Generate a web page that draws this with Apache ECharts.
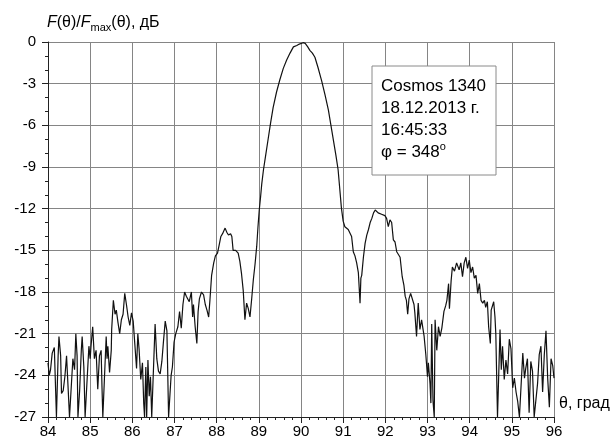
<!DOCTYPE html>
<html>
<head>
<meta charset="utf-8">
<script src="https://cdn.jsdelivr.net/npm/echarts@6/dist/echarts.min.js"></script>
<style>
html,body{margin:0;padding:0;background:#fff;}
#chart{width:613px;height:441px;}
</style>
</head>
<body>
<div id="chart"></div>
<script>
// Angle, degrees
var theta = [
84.00,84.03,84.06,84.10,84.15,84.18,84.20,84.22,84.24,84.26,84.30,84.32,84.36,84.40,84.44,84.48,84.51,84.55,84.59,84.63,
84.66,84.69,84.71,84.73,84.75,84.79,84.81,84.85,84.88,84.92,84.97,85.00,85.02,85.06,85.10,85.14,85.18,85.22,85.26,85.28,
85.30,85.34,85.38,85.40,85.42,85.46,85.50,85.51,85.55,85.59,85.62,85.66,85.70,85.74,85.78,85.82,85.86,85.90,85.94,85.98,
86.02,86.06,86.10,86.13,86.16,86.20,86.24,86.27,86.29,86.32,86.34,86.37,86.40,86.43,86.46,86.50,86.54,86.58,86.62,86.66,
86.70,86.74,86.78,86.82,86.86,86.90,86.92,86.95,86.99,87.03,87.08,87.12,87.16,87.20,87.24,87.28,87.32,87.35,87.40,87.43,
87.45,87.49,87.53,87.56,87.59,87.64,87.69,87.73,87.77,87.81,87.84,87.88,87.93,87.97,88.02,88.06,88.10,88.14,88.20,88.24,
88.28,88.33,88.36,88.39,88.45,88.51,88.55,88.59,88.63,88.67,88.71,88.75,88.79,88.83,88.87,88.91,88.95,88.98,89.01,89.04,
89.07,89.11,89.16,89.22,89.28,89.34,89.42,89.50,89.58,89.66,89.74,89.82,89.90,89.96,90.00,90.05,90.10,90.16,90.21,90.27,
90.33,90.40,90.49,90.57,90.65,90.71,90.77,90.83,90.88,90.92,90.96,91.00,91.04,91.08,91.12,91.16,91.20,91.24,91.28,91.32,
91.36,91.40,91.42,91.44,91.48,91.52,91.56,91.60,91.64,91.68,91.72,91.76,91.80,91.83,91.87,91.91,91.95,91.99,92.03,92.07,
92.11,92.15,92.19,92.23,92.27,92.31,92.35,92.40,92.44,92.47,92.50,92.53,92.56,92.60,92.64,92.68,92.70,92.74,92.78,92.82,
92.86,92.89,92.92,92.96,93.00,93.02,93.06,93.08,93.10,93.13,93.16,93.18,93.22,93.26,93.30,93.34,93.39,93.43,93.46,93.50,
93.52,93.56,93.59,93.64,93.69,93.75,93.79,93.83,93.87,93.91,93.95,93.99,94.03,94.07,94.11,94.15,94.19,94.23,94.27,94.31,
94.35,94.38,94.42,94.45,94.49,94.51,94.57,94.60,94.62,94.66,94.70,94.72,94.75,94.78,94.82,94.86,94.90,94.94,94.98,95.02,
95.06,95.10,95.14,95.18,95.22,95.26,95.30,95.33,95.37,95.41,95.45,95.49,95.53,95.57,95.61,95.65,95.69,95.73,95.77,95.81,
95.85,95.89,95.93,95.97,96.00
];
// Normalised pattern level, dB
var level = [
-23.1,-24.0,-23.6,-22.4,-22.0,-25.0,-27,-27,-22.6,-21.2,-22.6,-25.3,-25.1,-24.1,-22.6,-25.1,-27,-27,-22.8,-23.6,
-21.0,-22.6,-27,-27,-25.1,-22.2,-21.2,-23.4,-27,-27,-21.9,-22.8,-21.9,-20.5,-22.8,-22.2,-25.0,-22.6,-22.2,-24.8,
-27,-27,-21.2,-22.8,-21.9,-23.8,-22.2,-20.7,-18.6,-19.6,-19.3,-20.2,-21.0,-20.0,-19.6,-18.1,-18.9,-19.8,-20.4,-19.5,
-20.1,-21.8,-23.5,-21.0,-22.1,-24.3,-23.1,-26.0,-27,-23.4,-27,-22.9,-25.5,-24.1,-27,-27,-20.3,-22.8,-23.7,-23.9,
-23.0,-21.5,-20.1,-20.8,-27,-27,-24.0,-23.4,-21.6,-21.0,-20.5,-19.4,-20.6,-18.9,-18.0,-18.3,-18.2,-18.7,-18.0,-19.8,
-18.9,-20.5,-21.7,-19.4,-18.5,-18.0,-18.2,-18.9,-19.3,-19.8,-18.6,-16.8,-15.9,-15.4,-15.2,-14.6,-14.0,-13.8,-13.4,-13.7,
-13.9,-13.8,-14.0,-15.0,-15.0,-15.2,-15.8,-16.7,-17.9,-20.0,-18.8,-19.2,-19.8,-18.5,-17.1,-16.0,-14.7,-13.3,-12.1,-11.2,
-10.2,-9.2,-8.2,-7.0,-5.8,-4.7,-3.6,-2.7,-1.9,-1.3,-0.8,-0.35,-0.25,-0.15,-0.2,-0.05,-0.1,-0.35,-0.6,-0.8,
-1.1,-1.8,-2.8,-3.8,-4.9,-6.0,-7.1,-8.2,-9.2,-10.6,-12.0,-12.9,-13.3,-13.4,-13.5,-13.6,-14.0,-15.1,-15.4,-15.9,
-16.6,-18.8,-17.0,-16.8,-15.5,-14.5,-13.9,-13.5,-13.0,-12.7,-12.3,-12.1,-12.2,-12.3,-12.2,-12.4,-12.45,-12.5,-12.7,-13.3,
-12.8,-13.0,-14.25,-14.4,-15.1,-15.3,-15.5,-16.9,-17.5,-18.3,-18.6,-19.6,-18.5,-18.1,-18.1,-18.9,-19.5,-21.2,-18.8,-20.7,
-20.0,-20.6,-21.2,-22.5,-24.1,-23.1,-24.6,-26.0,-20.3,-25.8,-27,-20.0,-22.2,-20.5,-21.2,-20.6,-19.4,-19.0,-18.6,-17.4,
-19.2,-17.2,-16.2,-16.5,-15.9,-16.4,-15.9,-16.9,-15.9,-15.5,-16.3,-15.7,-16.6,-16.2,-17.0,-16.8,-18.1,-17.4,-18.6,-18.8,
-18.6,-19.1,-18.7,-20.5,-21.7,-19.3,-18.7,-19.8,-21.0,-27,-27,-20.7,-23.6,-21.9,-24.3,-22.9,-23.9,-21.4,-22.1,-24.9,
-24.2,-25.2,-25.9,-27,-27,-22.4,-24.2,-23.5,-22.8,-26.7,-23.0,-23.7,-27,-27,-24.6,-22.5,-21.9,-25.2,-22.5,-20.8,
-24.2,-26.3,-22.8,-23.3,-24.2
];
var infoLines = ['Cosmos 1340', '18.12.2013 г.', '16:45:33'];
var phiValue = '348';

var chart = echarts.init(document.getElementById('chart'), null, {renderer: 'canvas'});
var FONT = 'Liberation Sans, Arial, sans-serif';
var pts = theta.map(function (t, i) { return [t, level[i]]; });

var graphics = [
  {
    type: 'text', left: 47, top: 15,
    style: {
      text: '{i|F}(θ)/{i|F}{s|max}(θ), дБ',
      font: '16px ' + FONT, fill: '#000',
      rich: {
        i: {fontStyle: 'italic', fontSize: 16, fontFamily: FONT, fill: '#000'},
        s: {fontSize: 11, fontFamily: FONT, padding: [10, 0, 0, 0], fill: '#000'}
      }
    }
  },
  {
    type: 'text', x: 559, y: 404,
    style: {text: 'θ, град', font: '16px ' + FONT, fill: '#000', verticalAlign: 'middle'}
  },
  {
    type: 'rect', shape: {x: 372, y: 66, width: 124, height: 109},
    style: {fill: '#fff', stroke: '#8a8a8a', lineWidth: 1}, z: 10
  }
];
infoLines.forEach(function (s, i) {
  graphics.push({
    type: 'text', x: 381, y: 86.5 + i * 22, z: 11,
    style: {text: s, font: '17px ' + FONT, fill: '#000', verticalAlign: 'middle'}
  });
});
graphics.push({
  type: 'text', x: 381, y: 152, z: 11,
  style: {
    text: 'φ = ' + phiValue + '{o|o}', font: '17px ' + FONT, fill: '#000', verticalAlign: 'middle',
    rich: {o: {fontSize: 11, fontFamily: FONT, fill: '#000', verticalAlign: 'top', padding: [0, 0, 10, 0]}}
  }
});

chart.setOption({
  animation: false,
  backgroundColor: '#fff',
  grid: {left: 48, right: 59, top: 42, bottom: 24, containLabel: false},
  xAxis: {
    type: 'value', min: 84, max: 96, interval: 1,
    axisLine: {show: true, onZero: false, lineStyle: {color: '#222', width: 1}},
    axisTick: {show: true, inside: false, length: 6, lineStyle: {color: '#222'}},
    minorTick: {show: true, splitNumber: 5, length: 3, lineStyle: {color: '#222'}},
    axisLabel: {fontSize: 15, color: '#000', fontFamily: FONT, margin: 7},
    splitLine: {show: true, lineStyle: {color: '#858585', width: 1}}
  },
  yAxis: {
    type: 'value', min: -27, max: 0, interval: 3,
    axisLine: {show: true, onZero: false, lineStyle: {color: '#222', width: 1}},
    axisTick: {show: true, inside: false, length: 6, lineStyle: {color: '#222'}},
    minorTick: {show: true, splitNumber: 3, length: 3, lineStyle: {color: '#222'}},
    axisLabel: {fontSize: 15, color: '#000', fontFamily: FONT, margin: 12},
    splitLine: {show: true, lineStyle: {color: '#858585', width: 1}}
  },
  series: [{
    type: 'line', data: pts, showSymbol: false, symbol: 'none',
    lineStyle: {color: '#111', width: 1.2}, clip: true
  }],
  graphic: graphics
});
</script>
</body>
</html>
